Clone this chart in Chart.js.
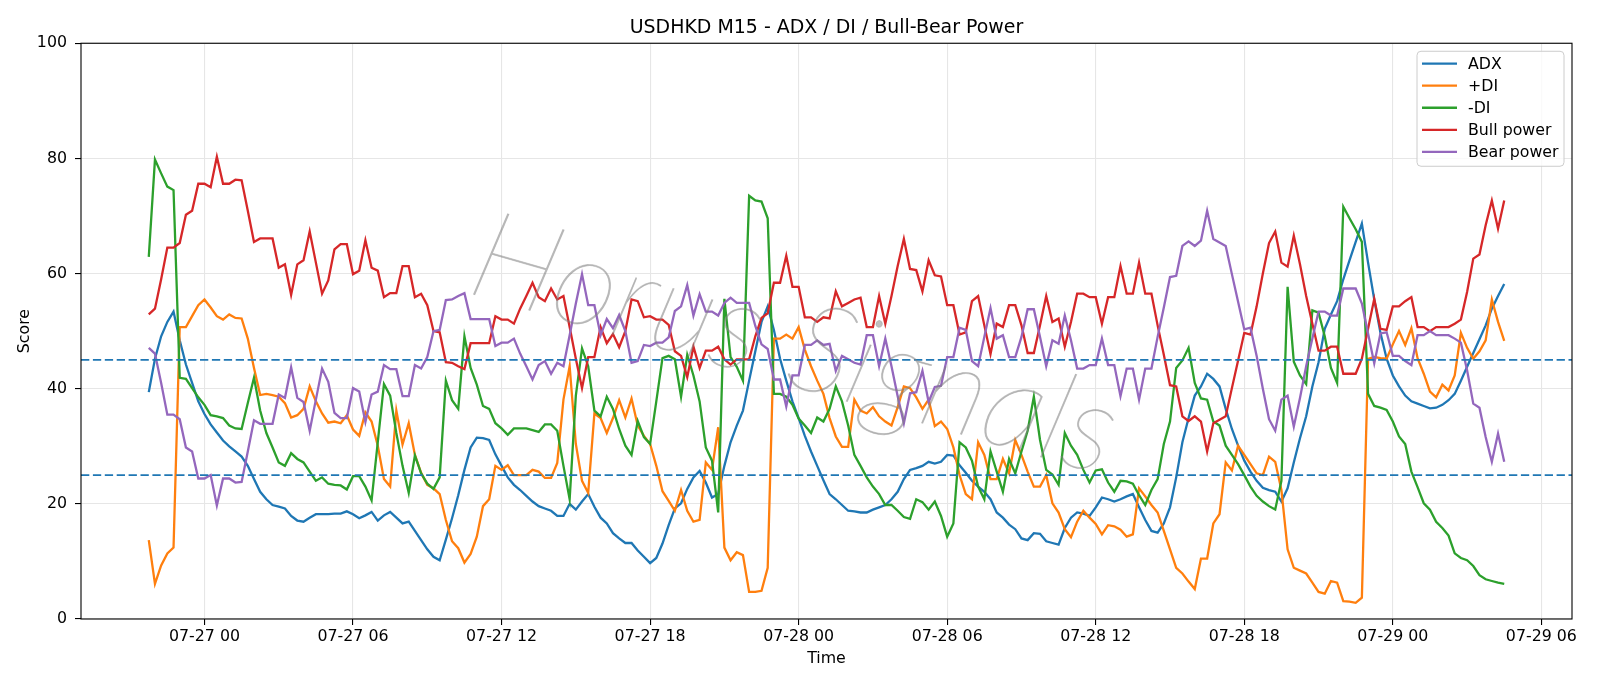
<!DOCTYPE html>
<html lang="en">
<head>
    <meta charset="UTF-8">
    <title>USDHKD M15 - ADX / DI / Bull-Bear Power</title>
    <script src="https://cdn.jsdelivr.net/npm/chart.js"></script>
    <style>
        body {
            margin: 0;
            padding: 0;
            background: #ffffff;
        }
        #chart-container {
            width: 1600px;
            height: 686px;
        }
    </style>
</head>
<body>
    <div id="chart-container">
        <canvas id="adxChart" width="1600" height="686"></canvas>
    </div>

    <script>
        // M15 bars from 07-26 21:45 to 07-29 04:30, x measured in hours from 07-27 00:00
        const firstBarHour = -2.25;
        const barHours = 0.25;

        const adx = [
            39.4, 45.2, 49.1, 51.6, 53.4, 48.4, 44.2, 41.0, 37.8, 35.6,
            33.8, 32.4, 31.0, 30.0, 29.1, 28.2, 26.6, 24.3, 22.1, 20.8,
            19.8, 19.5, 19.2, 17.9, 17.1, 16.9, 17.6, 18.2, 18.2, 18.2,
            18.3, 18.3, 18.7, 18.2, 17.5, 18.0, 18.6, 17.1, 18.0, 18.6,
            17.6, 16.6, 16.9, 15.3, 13.7, 12.1, 10.8, 10.2, 13.8, 17.5,
            21.5, 25.9, 29.8, 31.5, 31.4, 31.1, 28.6, 26.6, 24.6, 23.3,
            22.4, 21.4, 20.4, 19.6, 19.2, 18.8, 17.9, 17.9, 20.0, 19.0,
            20.4, 21.7, 19.5, 17.6, 16.6, 14.9, 14.0, 13.2, 13.2, 11.9,
            10.8, 9.7, 10.6, 13.1, 16.3, 19.2, 20.1, 22.6, 24.6, 25.7,
            23.7, 21.1, 21.7, 26.6, 30.7, 33.6, 36.2, 41.4, 46.5, 51.6,
            54.3, 50.2, 45.2, 41.4, 37.8, 34.9, 31.8, 29.1, 26.6, 24.1,
            21.7, 20.8, 19.8, 18.8, 18.7, 18.5, 18.5, 19.0, 19.4, 19.8,
            20.8, 22.1, 24.3, 25.9, 26.2, 26.6, 27.3, 27.0, 27.3, 28.5,
            28.4, 26.7, 25.4, 24.0, 23.0, 22.1, 20.8, 18.5, 17.6, 16.4,
            15.6, 14.0, 13.7, 14.9, 14.8, 13.5, 13.2, 12.9, 15.8, 17.6,
            18.5, 18.3, 17.9, 19.4, 21.1, 20.8, 20.4, 20.8, 21.3, 21.7,
            19.4, 17.2, 15.3, 15.0, 16.6, 19.4, 24.6, 30.7, 34.9, 38.8,
            40.4, 42.6, 41.7, 40.4, 36.5, 33.0, 30.1, 27.5, 25.6, 24.0,
            22.8, 22.4, 22.1, 20.4, 22.7, 27.2, 31.4, 35.2, 40.4, 44.6,
            50.4, 52.9, 55.2, 59.0, 62.3, 65.5, 68.7, 61.9, 55.5, 49.7,
            45.2, 42.3, 40.4, 38.8, 37.8, 37.4, 37.0, 36.6, 36.7, 37.2,
            38.0, 39.1, 41.4, 43.8, 46.2, 48.6, 51.0, 53.9, 56.1, 58.2
        ];

        const plusDI = [
            13.7, 6.1, 9.3, 11.4, 12.4, 50.7, 50.7, 52.6, 54.5, 55.5,
            54.1, 52.6, 52.0, 52.9, 52.3, 52.2, 48.7, 43.6, 38.9, 39.1,
            38.9, 38.6, 37.5, 35.0, 35.4, 36.5, 40.4, 37.8, 35.7, 34.1,
            34.3, 34.0, 35.4, 32.9, 31.8, 35.9, 34.3, 30.1, 24.3, 23.0,
            36.2, 30.3, 34.0, 28.5, 25.4, 23.3, 22.7, 21.7, 17.2, 13.5,
            12.3, 9.8, 11.3, 14.3, 19.6, 20.8, 26.6, 25.9, 26.7, 25.0,
            25.0, 25.0, 25.9, 25.6, 24.5, 24.5, 27.1, 38.1, 43.9, 30.4,
            24.0, 21.9, 35.7, 34.9, 32.3, 34.9, 38.0, 35.0, 38.3, 33.6,
            31.8, 30.4, 26.6, 22.2, 20.5, 18.8, 22.4, 18.8, 16.9, 17.2,
            27.2, 25.9, 33.3, 12.4, 10.2, 11.6, 11.1, 4.7, 4.7, 4.9,
            8.9, 48.7, 48.7, 49.4, 48.7, 50.7, 46.8, 43.9, 41.4, 39.1,
            34.9, 31.7, 29.9, 29.9, 38.1, 36.2, 35.7, 36.8, 35.2, 34.3,
            33.6, 36.8, 40.4, 40.1, 38.5, 36.5, 38.1, 33.5, 34.3, 33.0,
            29.8, 25.0, 21.7, 20.8, 30.7, 28.5, 24.3, 24.3, 27.8, 25.3,
            31.1, 28.5, 25.6, 23.0, 23.0, 25.0, 20.1, 18.5, 15.6, 14.2,
            16.9, 18.8, 17.6, 16.5, 14.7, 16.3, 16.1, 15.5, 14.3, 14.7,
            22.7, 21.3, 19.8, 18.5, 15.3, 12.1, 8.9, 7.9, 6.5, 5.2,
            10.5, 10.5, 16.6, 18.2, 27.2, 25.8, 30.1, 28.5, 26.9, 25.3,
            25.0, 28.2, 27.3, 22.4, 12.1, 8.9, 8.4, 7.9, 6.3, 4.7,
            4.4, 6.6, 6.3, 3.1, 3.0, 2.8, 3.7, 45.2, 45.5, 45.3,
            45.2, 47.7, 50.0, 47.6, 50.5, 45.3, 42.6, 39.5, 38.5, 40.7,
            39.7, 42.3, 49.7, 47.1, 45.2, 46.5, 48.4, 55.5, 51.6, 48.3
        ];

        const minusDI = [
            62.9, 79.8, 77.4, 75.1, 74.5, 41.9, 41.7, 40.1, 38.5, 37.2,
            35.4, 35.2, 34.9, 33.6, 33.1, 33.0, 37.5, 41.9, 36.2, 32.3,
            29.8, 27.2, 26.6, 28.8, 27.8, 27.2, 25.6, 24.0, 24.6, 23.5,
            23.3, 23.2, 22.5, 24.8, 24.8, 23.0, 20.6, 30.7, 40.8, 38.8,
            32.3, 26.6, 21.9, 28.4, 25.3, 23.5, 22.6, 24.6, 41.4, 38.0,
            36.5, 49.1, 43.6, 40.7, 37.0, 36.5, 34.0, 33.1, 32.0, 33.1,
            33.1, 33.1, 32.8, 32.5, 33.8, 33.8, 32.7, 26.6, 20.8, 38.8,
            47.0, 43.9, 36.2, 35.2, 38.6, 36.5, 33.0, 30.1, 28.5, 34.4,
            31.6, 30.4, 37.8, 45.3, 45.7, 45.1, 38.6, 45.9, 42.3, 37.8,
            29.8, 27.5, 18.5, 55.6, 45.5, 43.8, 41.4, 73.5, 72.7, 72.5,
            69.6, 39.1, 39.1, 38.6, 37.2, 34.8, 33.6, 32.3, 35.0, 34.3,
            36.5, 40.4, 37.8, 33.6, 28.5, 26.6, 24.6, 23.0, 21.7, 19.8,
            19.8, 18.8, 17.7, 17.4, 20.8, 20.3, 19.0, 20.4, 17.9, 14.3,
            16.6, 30.7, 29.8, 27.5, 23.0, 20.8, 29.1, 25.6, 22.1, 27.8,
            25.3, 29.1, 32.7, 38.6, 31.1, 25.9, 25.1, 23.3, 32.3, 30.1,
            28.5, 25.9, 23.7, 25.8, 26.0, 23.7, 22.1, 24.0, 23.9, 23.5,
            21.5, 19.8, 22.4, 24.3, 30.4, 34.3, 43.6, 44.9, 47.1, 41.0,
            38.3, 38.1, 34.3, 33.6, 30.1, 28.5, 26.9, 25.0, 23.0, 21.4,
            20.4, 19.6, 19.0, 24.0, 57.7, 44.7, 42.3, 40.8, 53.6, 53.2,
            49.1, 43.6, 41.0, 71.6, 69.6, 67.7, 65.5, 39.1, 37.0, 36.7,
            36.3, 34.3, 31.7, 30.4, 25.6, 22.9, 20.1, 19.0, 16.9, 15.8,
            14.5, 11.4, 10.6, 10.2, 9.2, 7.6, 6.9, 6.6, 6.3, 6.1
        ];

        const bullPower = [
            52.9, 53.9, 59.0, 64.5, 64.5, 65.3, 70.2, 70.9, 75.6, 75.6,
            75.0, 80.3, 75.6, 75.6, 76.3, 76.2, 70.9, 65.5, 66.1, 66.1,
            66.1, 61.0, 61.6, 56.3, 61.6, 62.3, 67.3, 61.9, 56.5, 58.8,
            64.2, 65.1, 65.1, 59.9, 60.5, 65.8, 61.0, 60.5, 55.9, 56.6,
            56.6, 61.3, 61.3, 55.9, 56.5, 54.5, 50.0, 49.8, 44.6, 44.5,
            43.9, 43.4, 47.9, 47.9, 47.9, 47.9, 52.6, 52.0, 52.0, 51.3,
            53.9, 56.1, 58.4, 55.9, 55.2, 57.4, 55.5, 56.1, 50.7, 45.2,
            40.1, 45.5, 45.5, 50.7, 47.9, 49.5, 47.2, 50.0, 55.5, 55.2,
            52.4, 52.6, 52.0, 52.0, 51.1, 46.5, 45.7, 42.0, 47.3, 43.6,
            46.6, 46.6, 47.3, 45.1, 44.2, 45.1, 45.1, 45.1, 49.1, 52.3,
            53.1, 58.4, 58.4, 63.1, 57.7, 57.7, 52.4, 52.4, 51.6, 52.4,
            52.2, 56.9, 54.3, 54.9, 55.5, 55.8, 50.7, 50.7, 56.1, 51.3,
            56.1, 61.3, 66.0, 60.8, 60.6, 56.9, 62.3, 59.7, 59.5, 54.5,
            54.5, 49.4, 49.8, 55.2, 56.1, 51.0, 46.0, 51.3, 50.7, 54.5,
            54.5, 51.0, 46.2, 46.2, 51.0, 56.1, 51.6, 52.2, 47.3, 51.6,
            56.5, 56.5, 55.9, 55.9, 51.3, 55.9, 55.9, 61.3, 56.5, 56.5,
            61.9, 56.5, 56.5, 51.0, 45.9, 40.6, 40.4, 35.2, 34.4, 35.2,
            34.3, 29.1, 34.0, 34.6, 35.2, 40.1, 44.9, 49.7, 49.4, 54.3,
            60.0, 65.3, 67.3, 61.9, 61.2, 66.6, 61.6, 56.1, 51.3, 46.6,
            46.6, 47.3, 47.3, 42.6, 42.6, 42.6, 45.2, 50.4, 55.6, 50.4,
            50.2, 54.3, 54.3, 55.2, 55.9, 50.7, 50.7, 50.0, 50.7, 50.7,
            50.7, 51.3, 52.0, 56.8, 62.6, 63.3, 68.4, 72.7, 67.8, 72.7
        ];

        const bearPower = [
            47.1, 46.1, 41.0, 35.5, 35.5, 34.7, 29.8, 29.1, 24.4, 24.4,
            25.0, 19.7, 24.4, 24.4, 23.7, 23.8, 29.1, 34.5, 33.9, 33.9,
            33.9, 39.0, 38.4, 43.7, 38.4, 37.7, 32.7, 38.1, 43.5, 41.2,
            35.8, 34.9, 34.9, 40.1, 39.5, 34.2, 39.0, 39.5, 44.1, 43.4,
            43.4, 38.7, 38.7, 44.1, 43.5, 45.5, 50.0, 50.2, 55.4, 55.5,
            56.1, 56.6, 52.1, 52.1, 52.1, 52.1, 47.4, 48.0, 48.0, 48.7,
            46.1, 43.9, 41.6, 44.1, 44.8, 42.6, 44.5, 43.9, 49.3, 54.8,
            59.9, 54.5, 54.5, 49.3, 52.1, 50.5, 52.8, 50.0, 44.5, 44.8,
            47.6, 47.4, 48.0, 48.0, 48.9, 53.5, 54.3, 58.0, 52.7, 56.4,
            53.4, 53.4, 52.7, 54.9, 55.8, 54.9, 54.9, 54.9, 50.9, 47.7,
            46.9, 41.6, 41.6, 36.9, 42.3, 42.3, 47.6, 47.6, 48.4, 47.6,
            47.8, 43.1, 45.7, 45.1, 44.5, 44.2, 49.3, 49.3, 43.9, 48.7,
            43.9, 38.7, 34.0, 39.2, 39.4, 43.1, 37.7, 40.3, 40.5, 45.5,
            45.5, 50.6, 50.2, 44.8, 43.9, 49.0, 54.0, 48.7, 49.3, 45.5,
            45.5, 49.0, 53.8, 53.8, 49.0, 43.9, 48.4, 47.8, 52.7, 48.4,
            43.5, 43.5, 44.1, 44.1, 48.7, 44.1, 44.1, 38.7, 43.5, 43.5,
            38.1, 43.5, 43.5, 49.0, 54.1, 59.4, 59.6, 64.8, 65.6, 64.8,
            65.7, 70.9, 66.0, 65.4, 64.8, 59.9, 55.1, 50.3, 50.6, 45.7,
            40.0, 34.7, 32.7, 38.1, 38.8, 33.4, 38.4, 43.9, 48.7, 53.4,
            53.4, 52.7, 52.7, 57.4, 57.4, 57.4, 54.8, 49.6, 44.4, 49.6,
            49.8, 45.7, 45.7, 44.8, 44.1, 49.3, 49.3, 50.0, 49.3, 49.3,
            49.3, 48.7, 48.0, 43.2, 37.4, 36.7, 31.6, 27.3, 32.2, 27.3
        ];

        const xTickHours = [0, 6, 12, 18, 24, 30, 36, 42, 48, 54];
        const xTickLabels = ['07-27 00', '07-27 06', '07-27 12', '07-27 18', '07-28 00',
                             '07-28 06', '07-28 12', '07-28 18', '07-29 00', '07-29 06'];
        const levels = [45, 25];

        const font = { family: '"DejaVu Sans", sans-serif', size: 15.8 };

        function toPoints(values) {
            return values.map((v, i) => ({ x: firstBarHour + i * barHours, y: v }));
        }

        // x range padded by 5% on both sides, like matplotlib
        const lastBarHour = firstBarHour + (adx.length - 1) * barHours;
        const xMargin = (lastBarHour - firstBarHour) * 0.05;

        // dashed ADX threshold lines
        const levelLines = {
            id: 'levelLines',
            afterDatasetsDraw(chart) {
                const { ctx, chartArea } = chart;
                const y = chart.scales.y;
                ctx.save();
                ctx.beginPath();
                ctx.rect(chartArea.left, chartArea.top, chartArea.width, chartArea.height);
                ctx.clip();
                ctx.strokeStyle = '#1f77b4';
                ctx.lineWidth = 1.8;
                ctx.setLineDash([8.3, 3.6]);
                levels.forEach(level => {
                    const py = y.getPixelForValue(level);
                    ctx.beginPath();
                    ctx.moveTo(chartArea.left, py);
                    ctx.lineTo(chartArea.right, py);
                    ctx.stroke();
                });
                ctx.restore();
            }
        };

        // faint thin watermark across the middle of the plot
        const watermark = {
            id: 'watermark',
            afterDatasetsDraw(chart) {
                const ctx = chart.ctx;
                ctx.save();
                ctx.translate(795, 345);
                ctx.rotate(16 * Math.PI / 180);
                ctx.font = 'italic 100 124px Lato, "DejaVu Sans"';
                ctx.fillStyle = 'rgba(130, 130, 130, 0.5)';
                ctx.strokeStyle = 'rgba(130, 130, 130, 0.35)';
                ctx.lineWidth = 0.8;
                ctx.textAlign = 'center';
                ctx.textBaseline = 'middle';
                ctx.fillText('Horus Signals', 0, 0);
                ctx.strokeText('Horus Signals', 0, 0);
                ctx.restore();
            }
        };

        // box round the axes plus matplotlib style legend in the upper right
        const frameAndLegend = {
            id: 'frameAndLegend',
            afterDraw(chart) {
                const { ctx, chartArea } = chart;
                ctx.save();
                ctx.strokeStyle = '#000000';
                ctx.lineWidth = 1.1;
                ctx.strokeRect(chartArea.left, chartArea.top, chartArea.width, chartArea.height);

                const w = 147, h = 115, rowH = 22.1;
                const left = chartArea.right - 8 - w;
                const top = chartArea.top + 8;
                ctx.beginPath();
                ctx.roundRect(left, top, w, h, 4);
                ctx.fillStyle = 'rgba(255, 255, 255, 0.8)';
                ctx.fill();
                ctx.strokeStyle = '#cccccc';
                ctx.lineWidth = 1;
                ctx.stroke();

                ctx.font = font.size + 'px ' + font.family;
                ctx.textBaseline = 'middle';
                chart.data.datasets.forEach((ds, i) => {
                    const y = top + 12.3 + i * rowH;
                    ctx.strokeStyle = ds.borderColor;
                    ctx.lineWidth = 2.3;
                    ctx.beginPath();
                    ctx.moveTo(left + 5, y);
                    ctx.lineTo(left + 40, y);
                    ctx.stroke();
                    ctx.fillStyle = '#000000';
                    ctx.fillText(ds.label, left + 51, y + 1);
                });
                ctx.restore();
            }
        };

        function series(label, values, color, order) {
            return {
                label: label,
                data: toPoints(values),
                borderColor: color,
                borderWidth: 2.3,
                pointRadius: 0,
                tension: 0,
                fill: false,
                order: order
            };
        }

        const ctx = document.getElementById('adxChart').getContext('2d');
        new Chart(ctx, {
            type: 'line',
            data: {
                datasets: [
                    series('ADX', adx, '#1f77b4', 5),
                    series('+DI', plusDI, '#ff7f0e', 4),
                    series('-DI', minusDI, '#2ca02c', 3),
                    series('Bull power', bullPower, '#d62728', 2),
                    series('Bear power', bearPower, '#9467bd', 1)
                ]
            },
            options: {
                responsive: false,
                animation: false,
                devicePixelRatio: 1,
                events: [],
                layout: {
                    padding: { left: 0, right: 28, top: 0, bottom: 0 }
                },
                plugins: {
                    legend: { display: false },
                    tooltip: { enabled: false },
                    title: {
                        display: true,
                        text: 'USDHKD M15 - ADX / DI / Bull-Bear Power',
                        color: '#000000',
                        font: { family: font.family, size: 18.96, weight: 'normal' },
                        padding: { top: 17, bottom: 3.5 },
                        fullSize: false
                    }
                },
                scales: {
                    x: {
                        type: 'linear',
                        min: firstBarHour - xMargin,
                        max: lastBarHour + xMargin,
                        afterBuildTicks: axis => {
                            axis.ticks = xTickHours.map(v => ({ value: v }));
                        },
                        afterFit: axis => {
                            axis.height = 67;
                        },
                        ticks: {
                            autoSkip: false,
                            maxRotation: 0,
                            color: '#000000',
                            font: font,
                            padding: 2,
                            callback: (value, index) => xTickLabels[index]
                        },
                        grid: {
                            color: '#e6e6e6',
                            lineWidth: 1.1,
                            tickColor: '#000000',
                            tickWidth: 1.1,
                            tickLength: 6
                        },
                        border: { display: false },
                        title: {
                            display: true,
                            text: 'Time',
                            color: '#000000',
                            font: font,
                            padding: { top: 0, bottom: 17.5 }
                        }
                    },
                    y: {
                        min: 0,
                        max: 100,
                        afterFit: axis => {
                            axis.width = 81;
                        },
                        ticks: {
                            stepSize: 20,
                            color: '#000000',
                            font: font,
                            padding: 8
                        },
                        grid: {
                            color: '#e6e6e6',
                            lineWidth: 1.1,
                            tickColor: '#000000',
                            tickWidth: 1.1,
                            tickLength: 6
                        },
                        border: { display: false },
                        title: {
                            display: true,
                            text: 'Score',
                            color: '#000000',
                            font: font,
                            padding: { top: 15, bottom: 0 }
                        }
                    }
                }
            },
            plugins: [levelLines, watermark, frameAndLegend]
        });
    </script>
</body>
</html>
